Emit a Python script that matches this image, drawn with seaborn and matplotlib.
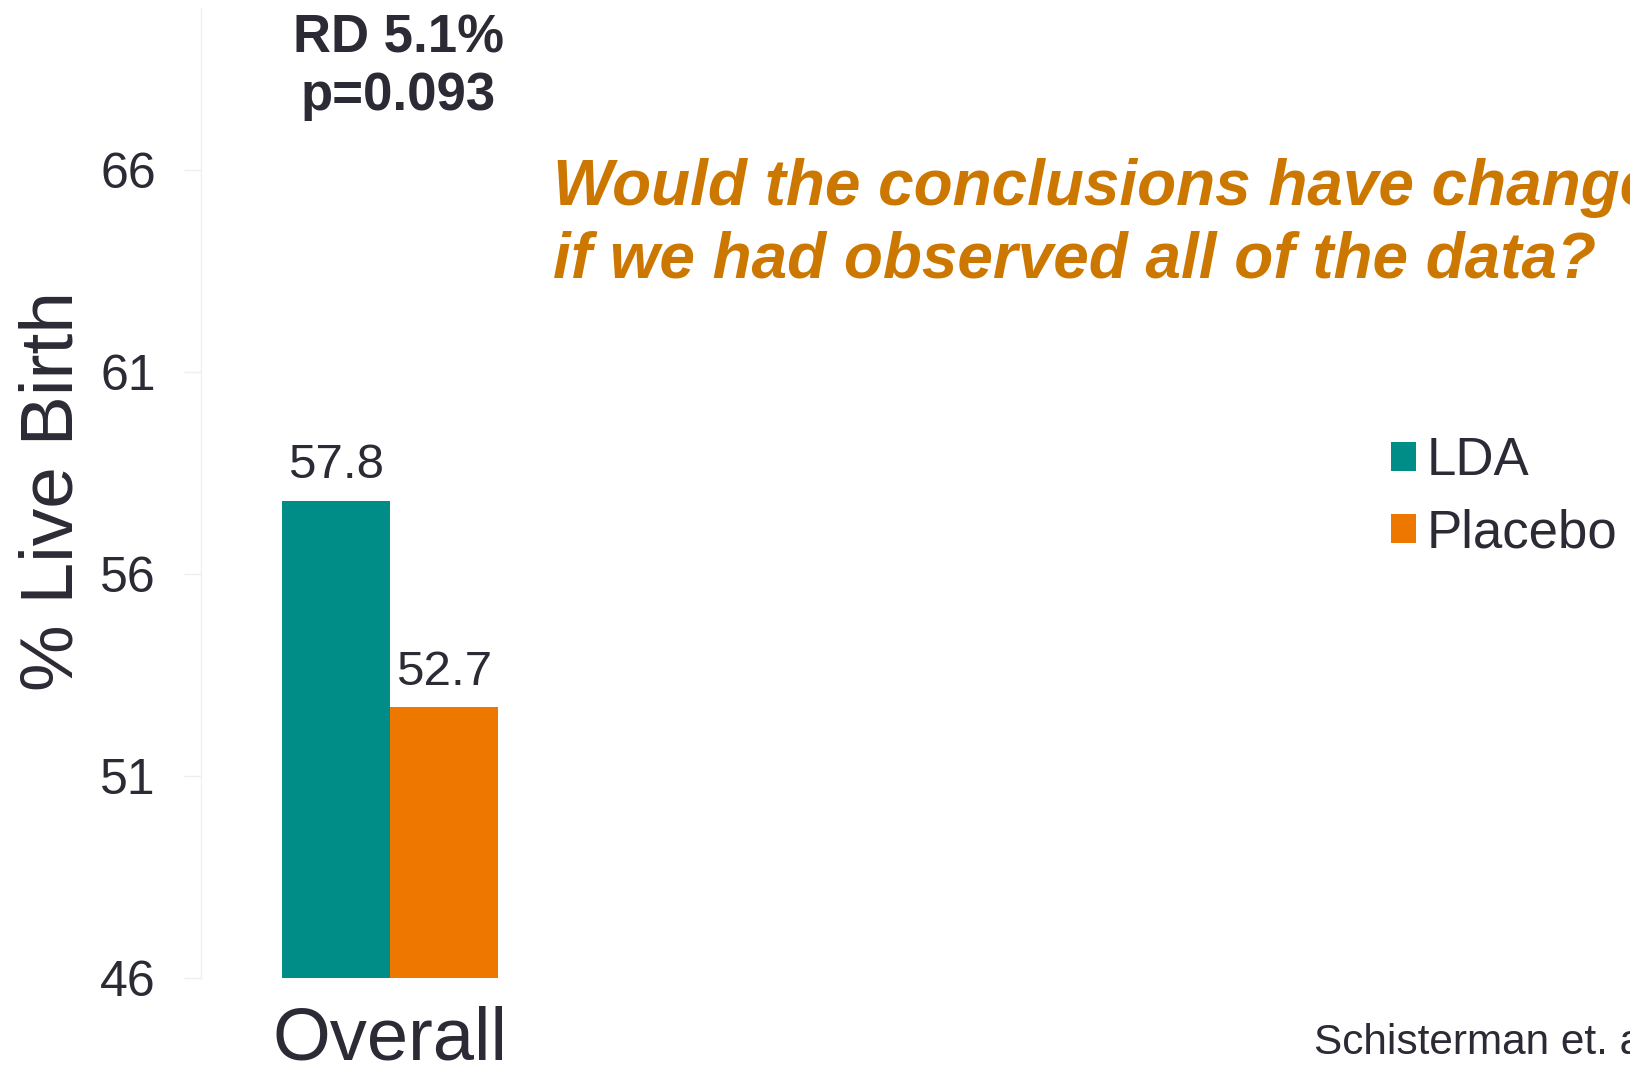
import matplotlib
matplotlib.use("Agg")
import matplotlib.pyplot as plt
import seaborn as sns
import pandas as pd

# Live birth rates by arm
categories = ["Overall"]
groups = ["LDA", "Placebo"]
live_birth_pct = [57.8, 52.7]
y_ticks = [46, 51, 56, 61, 66]

TEXT = "#2B2A35"
TEAL = "#008C87"
ORANGE = "#EE7700"
QUESTION = "#CC7700"

sns.set_theme(style="white")
plt.rcParams["font.family"] = ["Liberation Sans", "DejaVu Sans"]

df = pd.DataFrame({
    "category": categories * len(groups),
    "group": groups,
    "value": live_birth_pct,
})

W, H = 1631, 1068
fig = plt.figure(figsize=(W / 100, H / 100), dpi=100)
ax = fig.add_axes([201 / W, 1 - 977.8 / H, 1 - 201 / W, (977.8 - 8) / H])

sns.barplot(data=df, x="category", y="value", hue="group",
            palette=[TEAL, ORANGE], width=0.8, saturation=1,
            edgecolor="none", linewidth=0, ax=ax)

ax.set_ylim(46, 70)
ax.set_xlim(-0.70, 4.596)
ax.set_yticks(y_ticks)
ax.set_yticklabels([str(t) for t in y_ticks])

for cont in ax.containers:
    ax.bar_label(cont, fmt="%.1f", padding=9, fontsize=35.5, color=TEXT)

for s in ["top", "right", "bottom"]:
    ax.spines[s].set_visible(False)
ax.spines["left"].set_color("#F0F0F0")
ax.spines["left"].set_linewidth(1)

ax.tick_params(axis="y", which="major", left=True, length=12.5, width=1,
               color="#EEEEEE", pad=20, labelsize=36, labelcolor=TEXT)
ax.tick_params(axis="x", which="major", bottom=False, pad=14,
               labelsize=53.5, labelcolor=TEXT)
ax.set_xlabel("")
ax.set_ylabel("% Live Birth", fontsize=54, color=TEXT)
ax.yaxis.set_label_coords(88 / W, 1 - 491 / H, transform=fig.transFigure)
ax.grid(False)

leg = ax.legend(loc="upper left", bbox_to_anchor=(1391 / W, 1 - 436 / H),
                bbox_transform=fig.transFigure, frameon=False, fontsize=38,
                handlelength=0.48, handleheight=0.48, handletextpad=0.2,
                labelspacing=0.42, borderpad=0, borderaxespad=0,
                labelcolor=TEXT)

# Effect annotation above the bars
ax.text(0.03, 68.91, "RD 5.1%", ha="center", va="baseline",
        fontsize=38, fontweight="bold", color=TEXT)
ax.text(0.03, 67.47, "p=0.093", ha="center", va="baseline",
        fontsize=38, fontweight="bold", color=TEXT)

fig.text(553 / W, 1 - 277 / H,
         "Would the conclusions have changed\nif we had observed all of the data?",
         ha="left", va="baseline", fontsize=46, fontweight="bold",
         fontstyle="italic", color=QUESTION, linespacing=1.25)

fig.text(1314 / W, 1 - 1054 / H, "Schisterman et. al.",
         ha="left", va="baseline", fontsize=30.5, color=TEXT)

fig.savefig("out.png", dpi=100, facecolor="white")
